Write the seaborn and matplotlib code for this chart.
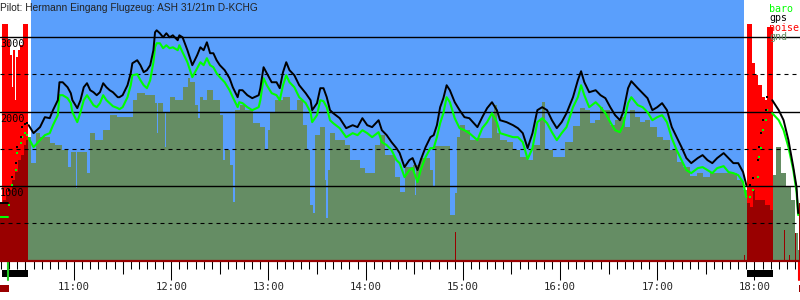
import numpy as np
import pandas as pd
import matplotlib
matplotlib.use("Agg")
import matplotlib.pyplot as plt
import matplotlib.transforms as mtransforms
from matplotlib.patches import Rectangle
import seaborn as sns

TITLE = "Pilot: Hermann Eingang Flugzeug: ASH 31/21m D-KCHG"

# ---------------- data ----------------
track_time = ["10:14", "10:16", "10:19", "10:20", "10:22", "10:24", "10:25", "10:27", "10:28", "10:30", "10:31",
              "10:32", "10:35", "10:39", "10:42", "10:45", "10:47", "10:50", "10:51", "10:53", "10:56", "10:58", "10:59",
              "11:02", "11:04", "11:06", "11:08", "11:10", "11:12", "11:14", "11:16", "11:18", "11:20", "11:22", "11:24",
              "11:27", "11:28", "11:30", "11:33", "11:35", "11:36", "11:39", "11:41", "11:43", "11:45", "11:47", "11:49",
              "11:50", "11:51", "11:53", "11:55", "11:57", "11:59",
              "12:01", "12:04", "12:05", "12:07", "12:10", "12:12", "12:13", "12:16", "12:18", "12:20", "12:22", "12:24",
              "12:26", "12:28", "12:30", "12:33", "12:36", "12:38", "12:41", "12:42", "12:44", "12:47", "12:50", "12:54",
              "12:55", "12:57", "12:59",
              "13:02", "13:05", "13:07", "13:09", "13:11", "13:13", "13:16", "13:19", "13:23", "13:26", "13:27", "13:30",
              "13:32", "13:34", "13:36", "13:38", "13:40", "13:44", "13:48", "13:52", "13:55", "13:58",
              "14:01", "14:04", "14:08", "14:10", "14:13", "14:16", "14:19", "14:21", "14:24", "14:27", "14:29", "14:32",
              "14:34", "14:37", "14:40", "14:42", "14:44", "14:46", "14:48", "14:50", "14:52", "14:55", "14:58",
              "15:01", "15:04", "15:09", "15:12", "15:15", "15:18", "15:21", "15:23", "15:27", "15:31", "15:34", "15:37",
              "15:40", "15:43", "15:46", "15:49", "15:52", "15:55", "15:58",
              "16:01", "16:04", "16:08", "16:11", "16:13", "16:15", "16:18", "16:22", "16:25", "16:28", "16:31", "16:34",
              "16:37", "16:39", "16:42", "16:44", "16:48", "16:51", "16:54", "16:57",
              "17:00", "17:03", "17:06", "17:09", "17:12", "17:15", "17:18", "17:21", "17:25", "17:28", "17:31", "17:34",
              "17:37", "17:41", "17:44", "17:47", "17:50", "17:53", "17:55",
              "17:57", "17:59", "18:02", "18:03", "18:04", "18:05", "18:07", "18:08",
              "18:11", "18:15", "18:18", "18:21", "18:24", "18:26", "18:27"]

gps_alt = [772, 772, 772, 946, 1121, 1308, 1523, 1657, 1792, 1832, 1845,
           1818, 1711, 1792, 1926, 1912, 2020, 2154, 2395, 2395, 2328, 2248, 2154,
           2047, 2154, 2328, 2382, 2288, 2261, 2221, 2261, 2382, 2328, 2288, 2261,
           2194, 2194, 2221, 2355, 2516, 2650, 2691, 2624, 2530, 2557, 2624, 2825,
           3066, 3093, 3053, 2999, 3053, 2999,
           3026, 2959, 3026, 2999, 2825, 2691, 2624, 2758, 2865, 2825, 2932, 2785,
           2785, 2691, 2624, 2557, 2449, 2328, 2194, 2288, 2288, 2221, 2181, 2221,
           2315, 2597, 2516,
           2395, 2395, 2315, 2530, 2664, 2557, 2489, 2355, 2248, 2154, 2020, 2114,
           2315, 2315, 2194, 2020, 1979, 1912, 1778, 1818, 1792, 1912,
           1818, 1792, 1885, 1751, 1684, 1590, 1510, 1443, 1255, 1349, 1376, 1215,
           1349, 1523, 1657, 1684, 1818, 2060, 2181, 2355, 2288, 2127, 2020,
           1926, 1912, 1792, 1926, 2047, 2127, 2020, 1885, 1859, 1818, 1778, 1711,
           1510, 1711, 2020, 2060, 2020, 1885, 1778,
           1859, 1979, 2194, 2422, 2543, 2395, 2261, 2288, 2221, 2181, 2060, 1953,
           1885, 1993, 2315, 2409, 2315, 2248, 2181, 2020,
           2060, 2114, 2020, 1792, 1657, 1523, 1376, 1308, 1376, 1416, 1349, 1308,
           1376, 1443, 1376, 1308, 1308, 1188, 1013,
           1013, 1107, 1349, 1523, 1711, 1885, 2020, 2194,
           2154, 2020, 1885, 1617, 1255, 986, 637]

baro_alt = [584, 584, 584, 745, 1013, 1215, 1443, 1577, 1657, 1711, 1684,
            1644, 1523, 1617, 1684, 1711, 1818, 1953, 2221, 2221, 2181, 2114, 1993,
            1859, 1993, 2154, 2221, 2154, 2087, 2060, 2114, 2221, 2154, 2114, 2073,
            2047, 2033, 2060, 2194, 2355, 2489, 2503, 2422, 2355, 2315, 2422, 2664,
            2865, 2919, 2919, 2852, 2892, 2852,
            2865, 2825, 2892, 2798, 2664, 2530, 2463, 2583, 2664, 2624, 2718, 2624,
            2597, 2516, 2463, 2395, 2288, 2194, 2060, 2127, 2114, 2060, 2020, 2060,
            2154, 2449, 2355,
            2248, 2221, 2154, 2355, 2489, 2395, 2328, 2194, 2114, 1993, 1859, 1953,
            2154, 2140, 2060, 1885, 1845, 1778, 1657, 1711, 1684, 1751,
            1711, 1657, 1724, 1590, 1550, 1483, 1349, 1308, 1121, 1215, 1241, 1053,
            1215, 1389, 1510, 1510, 1657, 1845, 1979, 2194, 2127, 1912, 1778,
            1751, 1711, 1617, 1778, 1859, 1979, 1859, 1711, 1684, 1657, 1657, 1590,
            1362, 1510, 1859, 1912, 1845, 1724, 1617,
            1711, 1792, 2060, 2194, 2355, 2221, 2060, 2127, 2060, 1979, 1859, 1751,
            1724, 1818, 2114, 2194, 2087, 2060, 1993, 1885,
            1926, 1953, 1859, 1644, 1483, 1349, 1215, 1174, 1241, 1255, 1215, 1174,
            1241, 1268, 1188, 1174, 1147, 1053, 852,
            852, 946, 1121, 1389, 1510, 1751, 1885, 2020,
            1979, 1885, 1751, 1523, 1215, 919, 611]

# periods where the logger only stored sparse fixes (engine running)
dot_spans = [("10:19:30", "10:31:30"), ("17:56:00", "18:09:00")]

# ground elevation (step profile)
gnd_time = ["10:31:35", "10:33:26", "10:36:31", "10:38:59", "10:45:10", "10:48:15", "10:52:34", "10:56:17",
            "10:58:08", "11:01:13", "11:01:50", "11:08:00", "11:09:52", "11:12:57", "11:17:53", "11:22:12",
            "11:26:32", "11:36:24", "11:38:52", "11:43:49", "11:49:59", "11:51:13", "11:51:50", "11:54:55",
            "11:56:09", "11:56:46", "11:59:14", "12:02:20", "12:07:16", "12:10:21", "12:11:35", "12:14:40",
            "12:16:32", "12:17:46", "12:19:37", "12:22:05", "12:25:47", "12:30:07", "12:31:58", "12:33:11",
            "12:36:17", "12:38:08", "12:39:22", "12:42:27", "12:45:32", "12:50:29", "12:54:48", "12:57:53",
            "12:59:44", "13:00:58", "13:04:04", "13:09:00", "13:13:19", "13:17:38", "13:21:20", "13:23:49",
            "13:25:40", "13:27:31", "13:28:45", "13:31:50", "13:34:55", "13:35:32", "13:36:46", "13:38:01",
            "13:41:06", "13:47:16", "13:50:22", "13:56:32", "13:59:37", "14:05:47", "14:08:52", "14:11:58",
            "14:18:08", "14:21:13", "14:24:19", "14:29:14", "14:30:29", "14:31:06", "14:33:34", "14:39:44",
            "14:41:35", "14:42:50", "14:52:05", "14:55:10", "14:56:25", "14:58:16", "15:01:20", "15:04:26",
            "15:08:45", "15:18:01", "15:19:15", "15:21:06", "15:23:00", "15:27:16", "15:30:58", "15:35:18",
            "15:39:37", "15:43:19", "15:47:38", "15:48:53", "15:50:44", "15:55:40", "16:03:04", "16:08:01",
            "16:12:20", "16:15:25", "16:18:31", "16:21:35", "16:24:41", "16:26:32", "16:30:51", "16:33:56",
            "16:37:02", "16:40:07", "16:43:12", "16:46:17", "16:49:22", "16:52:28", "16:55:33", "16:59:52",
            "17:03:34", "17:07:53", "17:12:13", "17:15:55", "17:20:14", "17:24:34", "17:28:16", "17:32:35",
            "17:49:15", "17:52:57", "17:55:25", "18:11:28", "18:13:19", "18:16:25", "18:19:30", "18:22:35",
            "18:25:03", "18:26:54", "18:28:08"]
gnd_alt = [1657, 1308, 1711, 1657, 1577, 1550, 1483, 1255,
           1456, 973, 1456, 1174, 1711, 1617, 1751, 1953,
           1926, 2154, 2248, 2221, 2114, 1711, 2114, 1979,
           1523, 1979, 2194, 2154, 2328, 2449, 2395, 2087,
           1912, 2194, 2154, 2288, 2154, 1953, 1349, 1483,
           1282, 785, 2020, 2087, 2020, 1845, 1792, 1483,
           1751, 1979, 2154, 2194, 2020, 2154, 1818, 1483,
           745, 637, 1684, 1792, 1080, 570, 1215, 1711,
           1617, 1550, 1349, 1241, 1174, 1550, 1684, 1416,
           1121, 919, 1255, 1282, 879, 1282, 1376, 1215,
           986, 1537, 611, 906, 1657, 1818, 1751, 1617,
           1644, 1953, 2087, 1711, 1617, 1590, 1483, 1389,
           1349, 1550, 1885, 2127, 1483, 1389, 1590, 1805,
           2047, 2020, 1845, 1885, 2060, 2020, 1818, 1885,
           1926, 1792, 2020, 1926, 1859, 1885, 1792, 1657,
           1617, 1483, 1322, 1255, 1134, 1174, 1121, 1174,
           1080, 946, 812, 1147, 1523, 1174, 986, 812,
           369, 141, 141]

# engine noise level (0..1000) and engine intensity (dark red)
noise_time = ["10:15:32", "10:19:14", "10:20:28", "10:21:42", "10:22:19", "10:23:33", "10:24:11", "10:25:25",
              "10:26:39", "10:28:30", "10:31:35", "17:55:25", "17:58:30", "18:00:22", "18:02:13", "18:04:41",
              "18:06:32", "18:07:47", "18:11:28"]
noise_val = [1000, 931, 868, 732, 889, 678, 859, 889,
             910, 1000, 0, 1000, 834, 783, 741, 690,
             678, 986, 0]

enl_time = ["10:14:18", "10:16:09", "10:18:00", "10:19:51", "10:21:42", "10:23:33", "10:25:25", "10:27:16",
            "10:29:07", "10:30:21", "10:31:35", "14:55:10", "14:55:50", "17:53:34", "17:54:10", "17:55:25",
            "17:57:18", "17:59:08", "18:00:22", "18:03:28", "18:06:32", "18:09:36", "18:11:28", "18:18:18",
            "18:18:55", "18:21:24", "18:22:00", "18:25:03", "18:25:40", "18:27:30", "18:28:08"]
enl_val = [243, 255, 277, 298, 340, 374, 424, 446,
           488, 509, 0, 120, 0, 23, 0, 243,
           226, 298, 255, 255, 234, 213, 0, 129,
           0, 23, 0, 116, 0, 243, 243]

flight_span = ("10:33:26", "17:53:34")
engine_runs = [("10:15:32", "10:31:35"), ("17:55:25", "18:11:28")]
logger_marks = [("10:14:18", "10:19:51"), ("18:27:30", "18:28:08")]
takeoff_time = "10:19:14"
landing_time = "18:27:30"
view_span = ("10:14:18", "18:28:08")

grid_major = [1000, 2000, 3000]
grid_minor = [500, 1500, 2500]
hour_ticks = [11, 12, 13, 14, 15, 16, 17, 18]
legend_items = [("baro", "#00ff00"), ("gps", "#000000"), ("noise", "#ff0000"), ("gnd", "#658d64")]

# ---------------- helpers ----------------
def to_h(s):
    p = [int(v) for v in s.split(":")]
    if len(p) == 2:
        p.append(0)
    return p[0] + p[1] / 60 + p[2] / 3600

BLUE = "#5a9ffc"
GND = "#658d64"
DARKRED = "#990000"
MONO = "DejaVu Sans Mono"

sns.set_style("white")
plt.rcParams["font.family"] = ["DejaVu Sans"]

fig = plt.figure(figsize=(8, 3), dpi=100)
fig.patch.set_facecolor("white")
ax = fig.add_axes([0, 39.5 / 300, 1, 260.5 / 300])
ax.set_facecolor("white")
NOISE_TOP = 1100.0
blend_ax = mtransforms.blended_transform_factory(ax.transData, ax.transAxes)

# background (in flight)
ax.axvspan(to_h(flight_span[0]), to_h(flight_span[1]), color=BLUE, lw=0, zorder=0)

# ground
gt = [to_h(s) for s in gnd_time]
ax.fill_between(gt, gnd_alt, 0, step="post", color=GND, lw=0, zorder=1)

# noise (red) and engine level (dark red), on their own 0..1100 scale
nt = [to_h(s) for s in noise_time]
ax.fill_between(nt, np.array(noise_val) / NOISE_TOP, 0, step="post", color="#ff0000",
                lw=0, zorder=2, transform=blend_ax)
et = [to_h(s) for s in enl_time]
ax.fill_between(et, np.array(enl_val) / NOISE_TOP, 0, step="post", color=DARKRED,
                lw=0, zorder=2.5, transform=blend_ax)

# grid
for v in grid_major:
    ax.axhline(v, color="black", lw=1.0, zorder=3)
for v in grid_minor:
    ax.axhline(v, color="black", lw=0.8, ls=(0, (3.6, 3.6)), zorder=3)
for v in grid_major:
    ax.text(0.0, v - 25, f"{v}", transform=mtransforms.blended_transform_factory(ax.transAxes, ax.transData),
            ha="left", va="top", fontsize=7.3, family=MONO, color="black", zorder=3.5)

# track
df = pd.DataFrame({"t": [to_h(s) for s in track_time], "gps": gps_alt, "baro": baro_alt})
is_dot = np.zeros(len(df), dtype=bool)
for a, b in dot_spans:
    is_dot |= ((df["t"] > to_h(a)) & (df["t"] < to_h(b))).to_numpy()
df["seg"] = np.concatenate([[0], np.cumsum(is_dot[1:] != is_dot[:-1])])
lines = df[~is_dot]
dots = df[is_dot]

sns.lineplot(data=lines, x="t", y="baro", units="seg", estimator=None, sort=False,
             color="#00ff00", lw=1.5, ax=ax, legend=False, zorder=4)
sns.lineplot(data=lines, x="t", y="gps", units="seg", estimator=None, sort=False,
             color="black", lw=1.4, ax=ax, legend=False, zorder=5)
sns.scatterplot(data=dots, x="t", y="baro", color="#00ff00", s=3, marker="s", linewidth=0,
                ax=ax, legend=False, zorder=4)
sns.scatterplot(data=dots, x="t", y="gps", color="black", s=3, marker="s", linewidth=0,
                ax=ax, legend=False, zorder=5)

# axes
ax.set_xlabel("")
ax.set_ylabel("")
ax.set_yticks([])
for sp in ("top", "left", "right"):
    ax.spines[sp].set_visible(False)
ax.spines["bottom"].set_color(DARKRED)
ax.spines["bottom"].set_linewidth(1.6)
ax.spines["bottom"].set_zorder(6)

ax.set_xticks(hour_ticks)
ax.set_xticklabels([f"{h}:00" for h in hour_ticks], fontfamily=MONO, fontsize=7.7)
five_min = np.arange(10 * 60, 18 * 60 + 30, 5) / 60.0
ax.set_xticks(five_min, minor=True)
ax.tick_params(axis="x", which="major", direction="out", length=14, width=0.75, color="black",
               pad=1.5, bottom=True)
ax.tick_params(axis="x", which="minor", direction="out", length=5.4, width=0.75, color="black",
               bottom=True)
sec = ax.secondary_xaxis("bottom")
sec.set_xticks([h + 0.5 for h in range(10, 19)])
sec.tick_params(axis="x", direction="out", length=9.7, width=0.75, color="black", labelbottom=False)
sec.spines["bottom"].set_visible(False)

# markers below axis
for a, b in engine_runs:
    ax.add_patch(Rectangle((to_h(a), -0.0633), to_h(b) - to_h(a), 0.0269, transform=blend_ax,
                           color="black", lw=0, clip_on=False))
for a, b in logger_marks:
    ax.add_patch(Rectangle((to_h(a), -0.121), to_h(b) - to_h(a), 0.027, transform=blend_ax,
                           color=DARKRED, lw=0, clip_on=False))
ax.plot([to_h(takeoff_time)] * 2, [-0.002, -0.075], transform=blend_ax, color="#22cc22", lw=1.5,
        clip_on=False, zorder=6)
ax.plot([to_h(landing_time)] * 2, [-0.002, -0.075], transform=blend_ax, color="#ff0000", lw=1.5,
        clip_on=False, zorder=6)

# limits last (setting ticks can widen them)
ax.set_xlim(to_h(view_span[0]), to_h(view_span[1]))
ax.set_ylim(0, 3500)

# title and legend
fig.text(0.0, 1 - 10.7 / 300, TITLE, fontsize=7.3, family="Liberation Sans", va="baseline",
         ha="left", color="#222222")
for i, (name, col) in enumerate(legend_items):
    fig.text(769 / 800, 1 - (11.5 + 9.6 * i) / 300, name, fontsize=7.2, family=MONO, color=col,
             va="baseline", ha="left")

fig.savefig("out.png", dpi=100)
